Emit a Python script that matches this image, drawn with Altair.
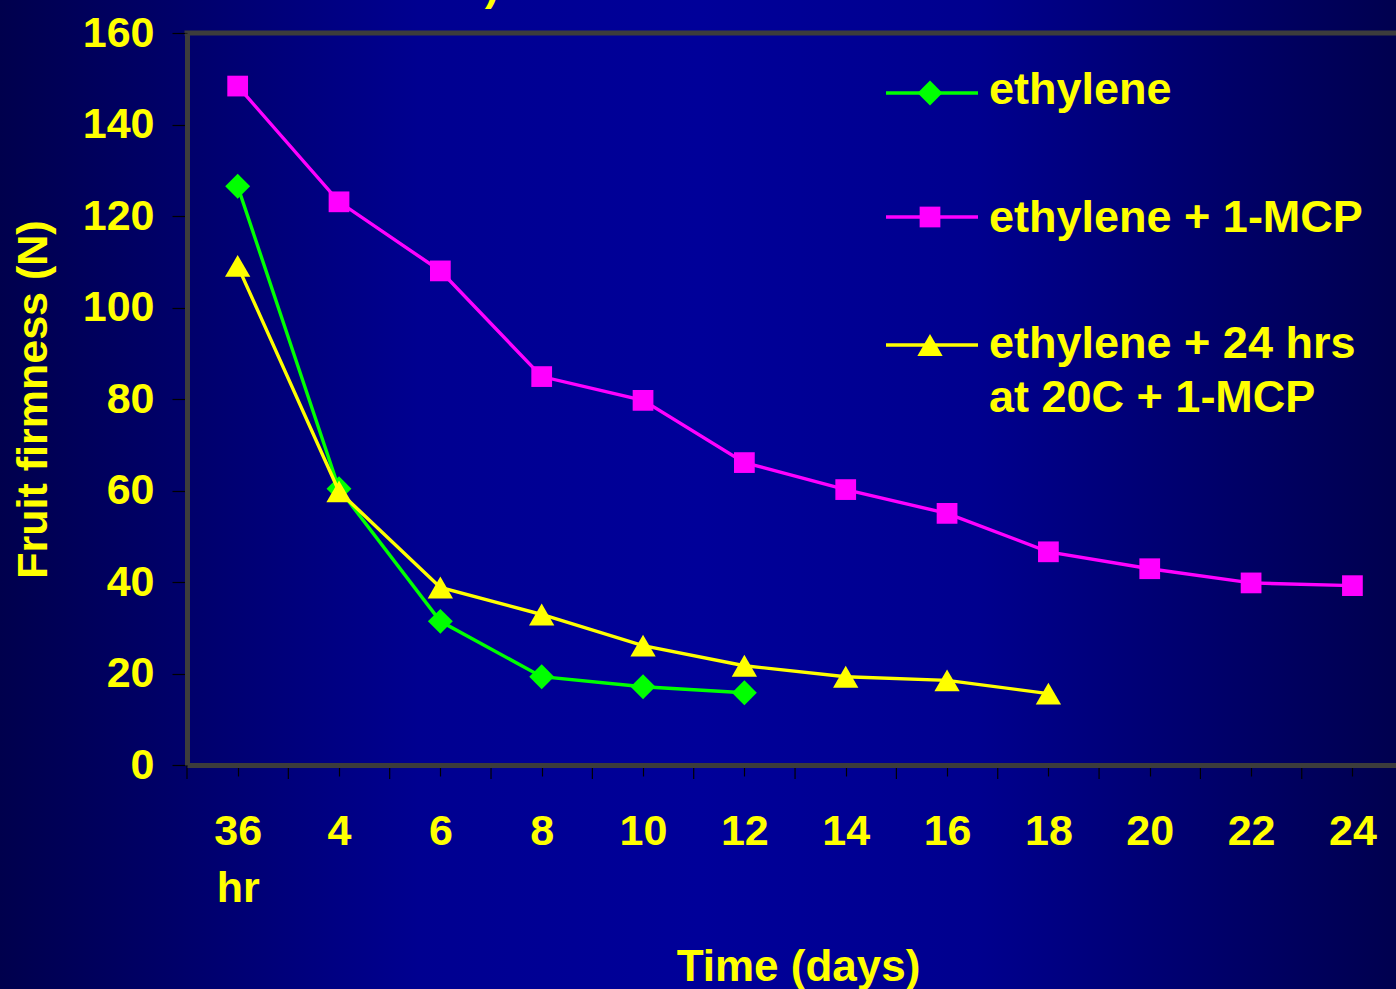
import altair as alt
import pandas as pd
import json

# ---------------- data ----------------
x_labels = ["36 hr", "4", "6", "8", "10", "12", "14", "16", "18", "20", "22", "24"]
series_names = ["ethylene + 1-MCP", "ethylene", "ethylene + 24 hrs at 20C + 1-MCP"]
ethylene_mcp = [148.4, 123.1, 108.0, 84.9, 79.7, 66.1, 60.2, 55.0, 46.6, 42.9, 39.8, 39.2]
ethylene = [126.5, 60.4, 31.4, 19.3, 17.1, 15.8]
ethylene_24h_mcp = [109.1, 59.8, 38.8, 32.9, 26.1, 21.7, 19.3, 18.5, 15.6]
series_values = [ethylene_mcp, ethylene, ethylene_24h_mcp]
series_colors = ["#FF00FF", "#00FF00", "#FFFF00"]
series_shapes = ["square", "diamond", "triangle-up"]
series_sizes = [430, 620, 640]
y_ticks = [0, 20, 40, 60, 80, 100, 120, 140, 160]

legend_names = ["ethylene", "ethylene + 1-MCP", "ethylene + 24 hrs"]
legend_colors = ["#00FF00", "#FF00FF", "#FFFF00"]
legend_shapes = ["diamond", "square", "triangle-up"]
legend_sizes = [620, 430, 640]
legend_row_y = [60, 184, 312]
legend_text_lines = ["ethylene", "ethylene + 1-MCP", "ethylene + 24 hrs", "at 20C + 1-MCP"]
legend_text_y = [71, 199, 325, 379]

FONT = "Liberation Sans"
YELLOW = "#FFFF00"
W, H = 1209, 732
BORDER = "#3c3c3c"

# label expression for x axis (first label on two lines)
lab_arr = [x_labels[0].split(" ")] + x_labels[1:]
label_expr = json.dumps(lab_arr) + "[round(datum.value)]"

x_scale = alt.Scale(domain=[-0.5, 11.43], nice=False, zero=False)
y_scale = alt.Scale(domain=[0, 160], nice=False, zero=False)

x_axis = alt.Axis(
    values=list(range(len(x_labels))), labelExpr=label_expr,
    labelFont=FONT, labelFontSize=43, labelFontWeight="bold", labelColor=YELLOW,
    labelLineHeight=57, labelPadding=34, labelFlush=False, labelOverlap=False,
    tickSize=11, tickColor="#000000", tickWidth=1.2,
    domainColor=BORDER, domainWidth=5, grid=False, zindex=1,
    title="Time (days)", titleFont=FONT, titleFontSize=44, titleFontWeight="bold",
    titleColor=YELLOW, titleX=611, titleY=215, titleAlign="center",
    titleBaseline="alphabetic", titleAnchor="start",
)
y_axis = alt.Axis(
    values=y_ticks, labelFont=FONT, labelFontSize=43, labelFontWeight="bold",
    labelColor=YELLOW, labelPadding=18, tickSize=15, tickColor="#000000", tickWidth=1.2,
    domainColor=BORDER, domainWidth=5, grid=False, zindex=1,
    title="Fruit firmness (N)", titleFont=FONT, titleFontSize=43, titleFontWeight="bold",
    titleColor=YELLOW, titleX=-154, titleY=366, titleAngle=-90, titleAlign="center",
    titleBaseline="middle", titleAnchor="start",
)

# ---------------- background gradient ----------------
bg = alt.Chart(pd.DataFrame({"a": [0]})).mark_rect(
    fill=alt.Gradient(
        gradient="linear", x1=0, x2=1, y1=0, y2=0,
        stops=[
            alt.GradientStop(offset=0, color="#00004d"),
            alt.GradientStop(offset=0.3, color="#000090"),
            alt.GradientStop(offset=0.5, color="#000099"),
            alt.GradientStop(offset=0.7, color="#00008e"),
            alt.GradientStop(offset=1, color="#00004f"),
        ],
    )
).encode(
    x=alt.value(-187), x2=alt.value(W), y=alt.value(-33), y2=alt.value(H + 224)
)

# fragment of the cut-off slide title at the very top
frag = alt.Chart(pd.DataFrame({"t": [")"]})).mark_text(
    font=FONT, fontSize=43, fontWeight="bold", color=YELLOW,
    align="center", baseline="alphabetic",
).encode(x=alt.value(305), y=alt.value(-33), text="t:N")

top_border = alt.Chart(pd.DataFrame({"a": [0]})).mark_rule(
    color=BORDER, strokeWidth=5
).encode(x=alt.value(-2.5), x2=alt.value(W), y=alt.value(0))

# long ticks at category boundaries
bound_df = pd.DataFrame({"b": [i - 0.5 for i in range(len(x_labels))]})
bound_ticks = alt.Chart(bound_df).mark_rule(color="#000000", strokeWidth=1.2).encode(
    x=alt.X("b:Q", scale=x_scale, axis=x_axis),
    y=alt.value(H),
    y2=alt.value(H + 14),
)

layers = [bg, frag, bound_ticks]
for name, vals, col, shp, sz in zip(series_names, series_values, series_colors,
                                    series_shapes, series_sizes):
    df = pd.DataFrame({"idx": list(range(len(vals))), "v": vals, "s": name})
    base = alt.Chart(df).encode(
        x=alt.X("idx:Q", scale=x_scale, axis=x_axis),
        y=alt.Y("v:Q", scale=y_scale, axis=y_axis),
    )
    layers.append(base.mark_line(color=col, strokeWidth=3.4))
    layers.append(base.mark_point(shape=shp, size=sz, filled=True, color=col, opacity=1))

# ---------------- custom legend ----------------
leg_df = pd.DataFrame({
    "name": legend_names, "color": legend_colors, "shape": legend_shapes,
    "size": legend_sizes, "ly": legend_row_y,
})
leg_lines = alt.Chart(leg_df).mark_rule(strokeWidth=3.4).encode(
    x=alt.value(699), x2=alt.value(791),
    y=alt.Y("ly:Q", scale=None),
    color=alt.Color("color:N", scale=None),
)
leg_pts = alt.Chart(leg_df).mark_point(filled=True, opacity=1).encode(
    x=alt.value(743),
    y=alt.Y("ly:Q", scale=None),
    color=alt.Color("color:N", scale=None),
    shape=alt.Shape("shape:N", scale=None),
    size=alt.Size("size:Q", scale=None),
)
txt_df = pd.DataFrame({"t": legend_text_lines, "ty": legend_text_y})
leg_txt = alt.Chart(txt_df).mark_text(
    font=FONT, fontSize=45, fontWeight="bold", color=YELLOW,
    align="left", baseline="alphabetic",
).encode(x=alt.value(802), y=alt.Y("ty:Q", scale=None), text="t:N")

layers += [top_border, leg_lines, leg_pts, leg_txt]

chart = alt.layer(*layers).properties(
    width=W, height=H,
    autosize=alt.AutoSizeParams(type="none"),
    padding={"left": 187, "top": 33, "right": 0, "bottom": 224},
    background="#000080",
).configure_view(stroke=None)

chart.save("out.html", embed_options={"renderer": "svg", "actions": False})
